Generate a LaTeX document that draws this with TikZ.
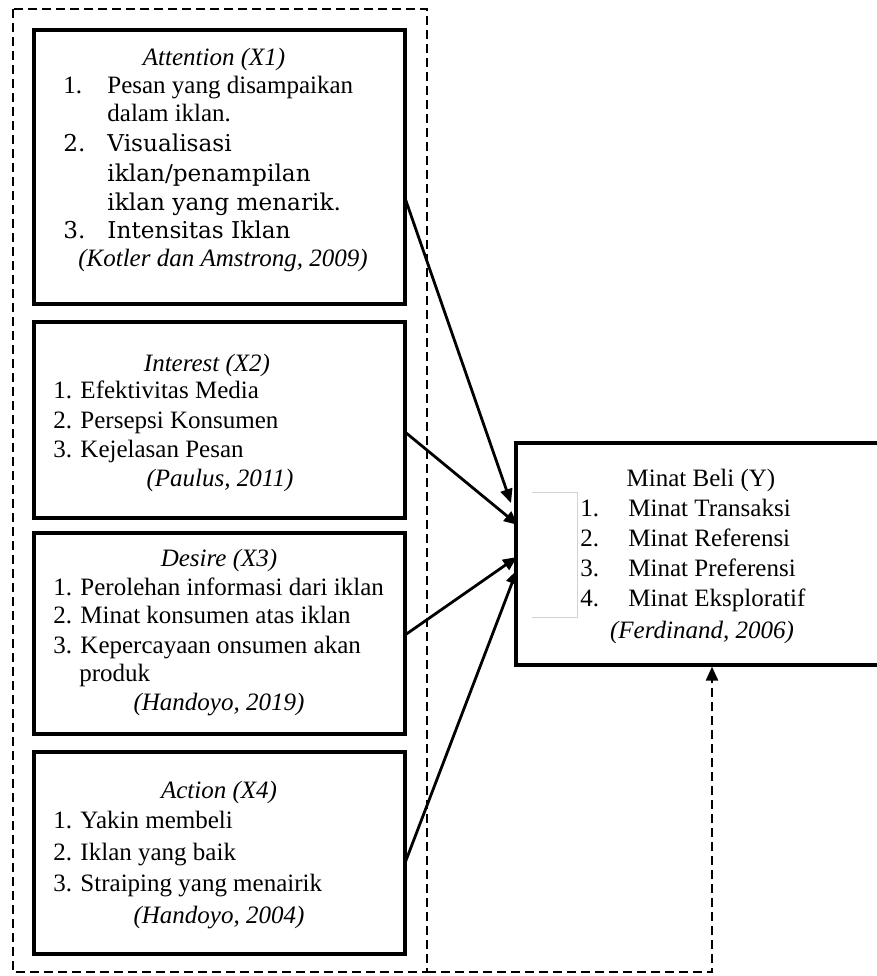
\documentclass[tikz,border=0pt]{standalone}
\usepackage{fontspec}
\setmainfont{Liberation Serif}
\newfontfamily\wideserif{DejaVu Serif}
\usetikzlibrary{arrows.meta}
\begin{document}
\begin{tikzpicture}[x=0.5pt,y=-0.5pt,
  box/.style={draw, line width=1.6pt, inner sep=0pt},
  txt/.style={inner sep=0pt, anchor=base west, font=\fontsize{12.5}{15}\selectfont},
  wtxt/.style={inner sep=0pt, anchor=base west, font=\wideserif\fontsize{11.6}{15}\selectfont},
  ctxt/.style={inner sep=0pt, anchor=base, font=\fontsize{12.5}{15}\selectfont},
  itxt/.style={ctxt, font=\fontsize{12.5}{15}\selectfont\itshape},
  arr/.style={line width=1.4pt, -{Triangle[length=7pt,width=6pt]}},
  dashline/.style={line width=1.2pt, dash pattern=on 4.5pt off 2.5pt},
  bracket/.style={draw=gray!35, line width=0.5pt}]
\useasboundingbox (0,0) rectangle (877,976);
\clip (0,0) rectangle (877,976);

% boxes
\node[box, minimum width=185.5pt, minimum height=137pt] (b1) at (219.5,167) {};
\node[box, minimum width=185.5pt, minimum height=98pt] (b2) at (219.5,420) {};
\node[box, minimum width=185.5pt, minimum height=100.5pt] (b3) at (219.5,633.5) {};
\node[box, minimum width=185.5pt, minimum height=101pt] (b4) at (219.5,853) {};
\node[box, minimum width=187pt, minimum height=111pt] (r) at (703,554) {};

% outer dashed frame
\draw[dashline] (13,9) rectangle (427,972);
\coordinate (dstart) at (427,972);
\coordinate (dturn) at (712,972);
\draw[dashline, -{Triangle[length=7pt,width=6pt]}] (dstart) -- (dturn) -- (r.south -| dturn);

% box 1 text
\node[itxt] (t1h) at (214,65) {Attention (X1)};
\node[txt] (t1n1) at (63,93) {1.};
\node[txt] (t1a) at (107,93) {Pesan yang disampaikan};
\node[txt] (t1b) at (107,121) {dalam iklan.};
\node[wtxt] (t1n2) at (63,151) {2.};
\node[wtxt] (t1c) at (107,151) {Visualisasi};
\node[wtxt] (t1d) at (107,181) {iklan/penampilan};
\node[wtxt] (t1e) at (107,210) {iklan yang menarik.};
\node[wtxt] (t1n3) at (63,238) {3.};
\node[wtxt] (t1f) at (107,238) {Intensitas Iklan};
\node[itxt] (t1s) at (223,266) {(Kotler dan Amstrong, 2009)};

% box 2 text
\node[itxt] (t2h) at (207,371) {Interest (X2)};
\node[txt] (t2a) at (53,398) {1. Efektivitas Media};
\node[txt] (t2b) at (53,428) {2. Persepsi Konsumen};
\node[txt] (t2c) at (53,457) {3. Kejelasan Pesan};
\node[itxt] (t2s) at (220,486) {(Paulus, 2011)};

% box 3 text
\node[itxt] (t3h) at (219,566) {Desire (X3)};
\node[txt] (t3a) at (53,595) {1. Perolehan informasi dari iklan};
\node[txt] (t3b) at (53,623) {2. Minat konsumen atas iklan};
\node[txt] (t3c) at (53,653) {3. Kepercayaan onsumen akan};
\node[txt] (t3d) at (79,681) {produk};
\node[itxt] (t3s) at (219,710) {(Handoyo, 2019)};

% box 4 text
\node[itxt] (t4h) at (219,798) {Action (X4)};
\node[txt] (t4a) at (53,828) {1. Yakin membeli};
\node[txt] (t4b) at (53,860) {2. Iklan yang baik};
\node[txt] (t4c) at (53,891) {3. Straiping yang menairik};
\node[itxt] (t4s) at (219,923) {(Handoyo, 2004)};

% right box text
\draw[bracket] (532,492) -- (577,492) -- (577,617) -- (532,617);
\node[ctxt] (rh) at (701,486) {Minat Beli (Y)};
\node[txt] (rn1) at (580,516) {1.};
\node[txt] (ra) at (628,516) {Minat Transaksi};
\node[txt] (rn2) at (580,546) {2.};
\node[txt] (rb) at (628,546) {Minat Referensi};
\node[txt] (rn3) at (580,576) {3.};
\node[txt] (rc) at (628,576) {Minat Preferensi};
\node[txt] (rn4) at (580,606) {4.};
\node[txt] (rd) at (628,606) {Minat Eksploratif};
\node[itxt] (rs) at (702,638) {(Ferdinand, 2006)};

% arrows
\coordinate (s1) at (405,198);
\coordinate (s2) at (405,432);
\coordinate (s3) at (405,635);
\coordinate (s4) at (405,863);
\coordinate (e1) at (511,503);
\coordinate (e2) at (518,525);
\coordinate (e3) at (517,557);
\coordinate (e4) at (517,570);
\draw[arr] (s1) -- (e1);
\draw[arr] (s2) -- (e2);
\draw[arr] (s3) -- (e3);
\draw[arr] (s4) -- (e4);
\end{tikzpicture}
\end{document}
